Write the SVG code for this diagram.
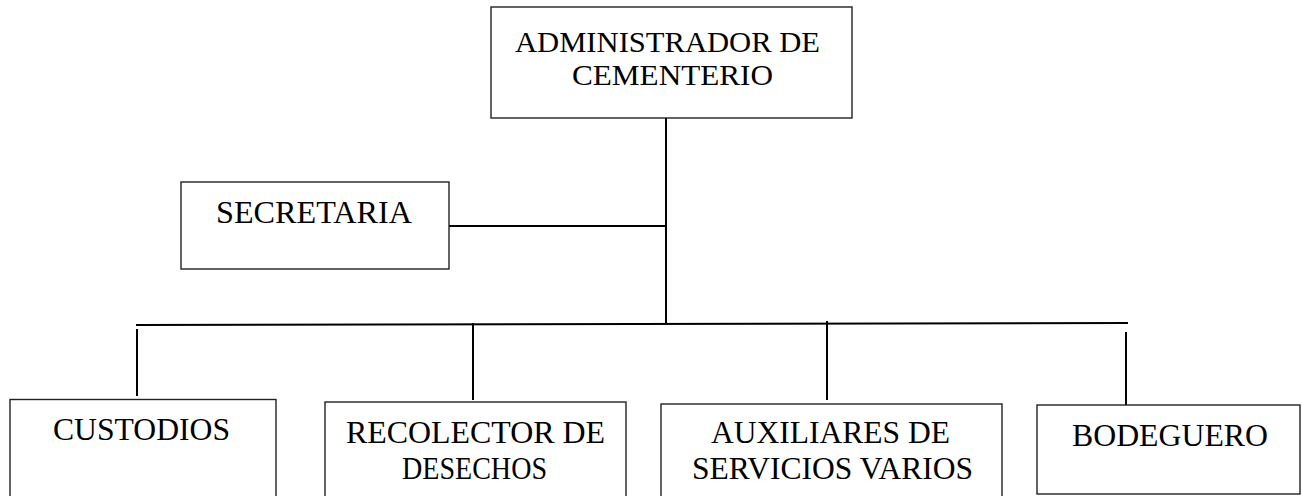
<svg xmlns="http://www.w3.org/2000/svg" width="1302" height="496" viewBox="0 0 1302 496">
<style>
.box{fill:#fff;stroke:#222;stroke-width:1.4}
.t{font-family:"Liberation Serif","Times New Roman",serif;font-size:32px;fill:#000}
.ta{font-family:"Liberation Serif","Times New Roman",serif;font-size:30px;fill:#000}
.c{stroke:#000;stroke-width:2;fill:none}
</style>
<rect width="1302" height="496" fill="#fff"/>
<g id="connectors">
<line class="c" x1="666" y1="118" x2="666" y2="324"/>
<line class="c" x1="449" y1="226" x2="666" y2="226"/>
<line class="c" x1="136" y1="325" x2="1128" y2="323"/>
<line class="c" x1="137" y1="329" x2="137" y2="396"/>
<line class="c" x1="473" y1="323" x2="473" y2="400"/>
<line class="c" x1="827" y1="321" x2="827" y2="400"/>
<line class="c" x1="1126" y1="332" x2="1126" y2="405"/>
</g>
<g id="admin">
<rect class="box" x="491" y="7" width="361" height="111"/>
<text class="ta" x="515" y="52" textLength="305" lengthAdjust="spacingAndGlyphs">ADMINISTRADOR DE</text>
<text class="ta" x="572" y="85" textLength="201" lengthAdjust="spacingAndGlyphs">CEMENTERIO</text>
</g>
<g id="secretaria">
<rect class="box" x="181" y="182" width="268" height="87"/>
<text class="t" x="216" y="223" textLength="196" lengthAdjust="spacingAndGlyphs">SECRETARIA</text>
</g>
<g id="custodios">
<rect class="box" x="10" y="399.5" width="266" height="110"/>
<text class="t" x="53" y="440" textLength="177" lengthAdjust="spacingAndGlyphs">CUSTODIOS</text>
</g>
<g id="recolector">
<rect class="box" x="325" y="402" width="301" height="110"/>
<text class="t" x="346" y="443" textLength="259" lengthAdjust="spacingAndGlyphs">RECOLECTOR DE</text>
<text class="t" x="402" y="479" textLength="145" lengthAdjust="spacingAndGlyphs">DESECHOS</text>
</g>
<g id="auxiliares">
<rect class="box" x="661" y="404" width="341" height="110"/>
<text class="t" x="711" y="443" textLength="239" lengthAdjust="spacingAndGlyphs">AUXILIARES DE</text>
<text class="t" x="692" y="479" textLength="281" lengthAdjust="spacingAndGlyphs">SERVICIOS VARIOS</text>
</g>
<g id="bodeguero">
<rect class="box" x="1037" y="405" width="263" height="89"/>
<text class="t" x="1072" y="446" textLength="196" lengthAdjust="spacingAndGlyphs">BODEGUERO</text>
</g>
</svg>
